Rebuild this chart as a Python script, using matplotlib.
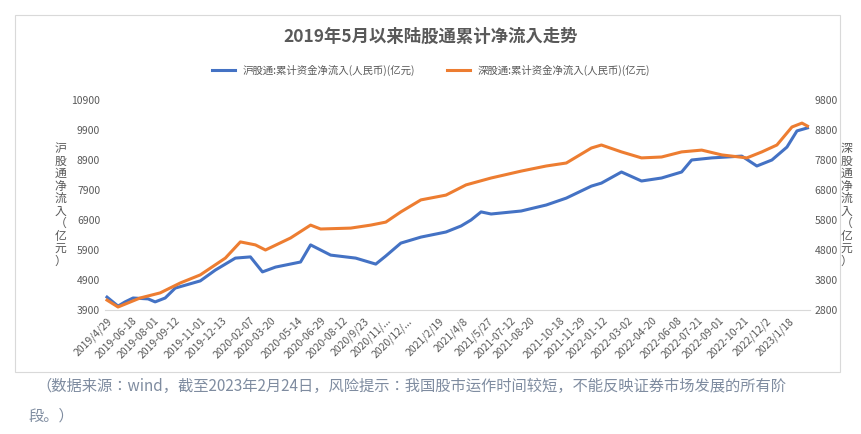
import pandas as pd
import matplotlib.pyplot as plt
from matplotlib.patches import Rectangle

plt.rcParams['font.family'] = ['Noto Sans CJK SC', 'Noto Sans CJK JP', 'Noto Sans CJK TC',
                               'Noto Sans CJK KR', 'DejaVu Sans']

# === Data ===
sh_dates = ['2019-04-29', '2019-05-21', '2019-06-04', '2019-06-20', '2019-07-20', '2019-08-03',
            '2019-08-23', '2019-09-12', '2019-11-01', '2019-12-01', '2020-01-10', '2020-02-09',
            '2020-03-04', '2020-03-30', '2020-05-19', '2020-06-08', '2020-06-28', '2020-07-18',
            '2020-09-06', '2020-10-16', '2020-11-05', '2020-12-05', '2021-01-14', '2021-03-05',
            '2021-04-04', '2021-04-24', '2021-05-14', '2021-06-03', '2021-08-02', '2021-09-21',
            '2021-10-31', '2021-12-20', '2022-01-09', '2022-02-18', '2022-03-30', '2022-05-09',
            '2022-06-18', '2022-07-08', '2022-08-17', '2022-10-16', '2022-11-15', '2022-12-15',
            '2023-01-14', '2023-02-03', '2023-02-24']
sh_values = [4330, 4030, 4170, 4300, 4270, 4170, 4300, 4630, 4870, 5230, 5630, 5670,
             5170, 5330, 5500, 6070, 5900, 5730, 5630, 5430, 5700, 6130, 6330, 6500,
             6700, 6900, 7170, 7100, 7200, 7400, 7630, 8030, 8130, 8500, 8200, 8300,
             8500, 8900, 8970, 9030, 8700, 8900, 9330, 9870, 9970]

sz_dates = ['2019-04-29', '2019-05-21', '2019-07-04', '2019-08-13', '2019-09-22', '2019-11-01',
            '2019-12-21', '2020-01-20', '2020-02-19', '2020-03-10', '2020-04-29', '2020-06-08',
            '2020-06-28', '2020-08-27', '2020-10-06', '2020-11-05', '2020-12-05', '2021-01-14',
            '2021-03-05', '2021-04-14', '2021-06-03', '2021-08-02', '2021-09-21', '2021-10-31',
            '2021-12-20', '2022-01-09', '2022-02-18', '2022-03-30', '2022-05-09', '2022-06-18',
            '2022-07-28', '2022-09-06', '2022-10-26', '2022-11-25', '2022-12-25', '2023-01-24',
            '2023-02-13', '2023-02-24']
sz_values = [3130, 2900, 3200, 3370, 3700, 3970, 4530, 5070, 4970, 4800, 5200, 5630,
             5500, 5530, 5630, 5730, 6070, 6470, 6630, 6970, 7200, 7430, 7600, 7700,
             8200, 8300, 8070, 7870, 7900, 8070, 8130, 7970, 7870, 8070, 8300, 8900,
             9030, 8930]

tick_labels = ['2019/4/29', '2019-06-18', '2019-08-01', '2019-09-12', '2019-11-01', '2019-12-13',
               '2020-02-07', '2020-03-20', '2020-05-14', '2020-06-29', '2020-08-12', '2020/9/23',
               '2020/11/...', '2020/12/...', '2021/2/19', '2021/4/8', '2021/5/27', '2021-07-12',
               '2021-08-20', '2021-10-18', '2021-11-29', '2022-01-12', '2022-03-02', '2022-04-20',
               '2022-06-08', '2022-07-21', '2022-09-01', '2022-10-21', '2022/12/2', '2023/1/18']
tick_dates = ['2019-04-29', '2019-06-18', '2019-08-01', '2019-09-12', '2019-11-01', '2019-12-13',
              '2020-02-07', '2020-03-20', '2020-05-14', '2020-06-29', '2020-08-12', '2020-09-23',
              '2020-11-04', '2020-12-17', '2021-02-19', '2021-04-08', '2021-05-27', '2021-07-12',
              '2021-08-20', '2021-10-18', '2021-11-29', '2022-01-12', '2022-03-02', '2022-04-20',
              '2022-06-08', '2022-07-21', '2022-09-01', '2022-10-21', '2022-12-02', '2023-01-18']

blue = '#4472c4'
orange = '#ed7d31'
grey = '#595959'

fig = plt.figure(figsize=(8.62, 4.34), dpi=100)
fig.patches.append(Rectangle((15 / 862, 1 - 372 / 434), 825 / 862, 357 / 434,
                             transform=fig.transFigure, fill=False, edgecolor='#d9d9d9', lw=0.8))

ax = fig.add_axes([105 / 862, 1 - 310 / 434, 705 / 862, 210 / 434])
ax2 = ax.twinx()

l1, = ax.plot(pd.to_datetime(sh_dates), sh_values, color=blue, lw=2.2)
l2, = ax2.plot(pd.to_datetime(sz_dates), sz_values, color=orange, lw=2.2)

ax.set_ylim(3900, 10900)
ax.set_yticks(range(3900, 10901, 1000))
ax2.set_ylim(2800, 9800)
ax2.set_yticks(range(2800, 9801, 1000))
ax.set_xlim(pd.Timestamp('2019-04-25'), pd.Timestamp('2023-03-01'))
ax.set_xticks(pd.to_datetime(tick_dates))
ax.set_xticklabels(tick_labels, rotation=45, ha='right', rotation_mode='anchor', fontsize=7.5, color=grey)

for a in (ax, ax2):
    for s in a.spines.values():
        s.set_visible(False)
    a.tick_params(length=0, labelsize=7.5, labelcolor=grey)
ax.spines['bottom'].set_visible(True)
ax.spines['bottom'].set_color('#d9d9d9')
ax.tick_params(axis='x', pad=4)

ax.set_ylabel('\n'.join('沪股通净流入（亿元）'), rotation=0, va='center', fontsize=8.5,
              color=grey, linespacing=0.95, labelpad=8)
ax2.set_ylabel('\n'.join('深股通净流入（亿元）'), rotation=0, va='center', fontsize=8.5,
               color=grey, linespacing=0.95, labelpad=6)

fig.text(0.5, 1 - 37 / 434, '2019年5月以来陆股通累计净流入走势', ha='center', va='center',
         fontsize=12.5, fontweight='bold', color=grey)
fig.legend([l1, l2], ['沪股通:累计资金净流入(人民币)(亿元)', '深股通:累计资金净流入(人民币)(亿元)'],
           loc='center', bbox_to_anchor=(0.5, 1 - 70 / 434), ncol=2, frameon=False,
           fontsize=7.5, labelcolor=grey, handlelength=2.2, columnspacing=3)

fig.text(36 / 862, 1 - 386 / 434, '（数据来源：wind，截至2023年2月24日，风险提示：我国股市运作时间较短，不能反映证券市场发展的所有阶',
         fontsize=11, color='#7f8ca0', va='center')
fig.text(28 / 862, 1 - 416 / 434, '段。）', fontsize=11, color='#7f8ca0', va='center')

fig.savefig('out.png', dpi=100)
